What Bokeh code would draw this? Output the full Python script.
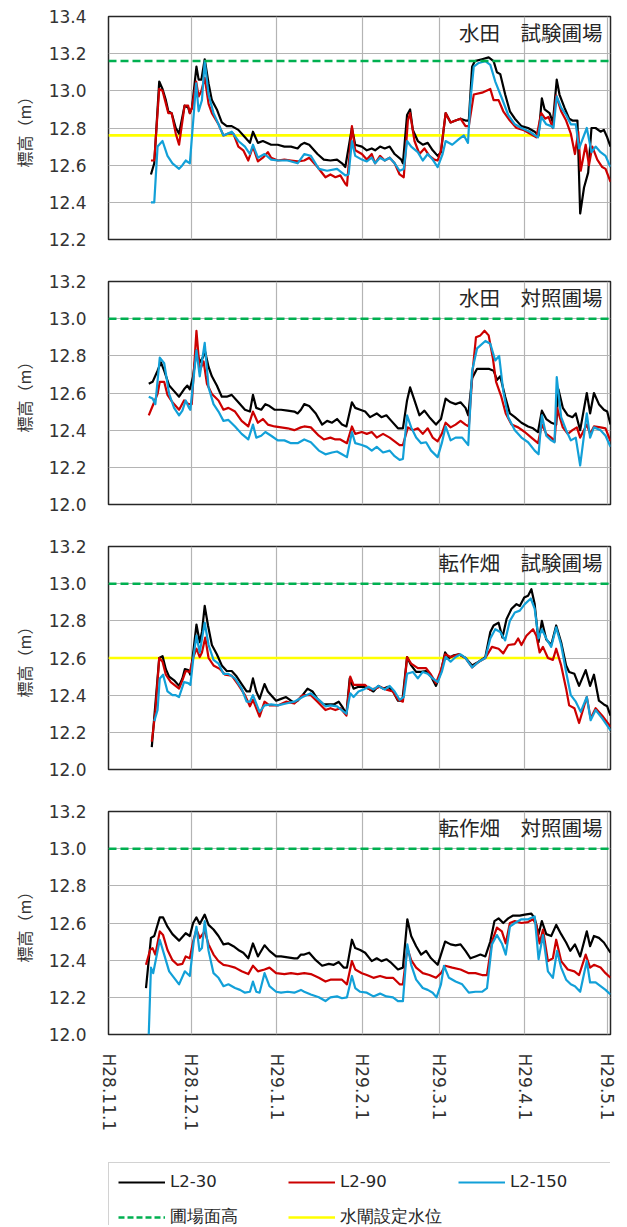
from bokeh.plotting import figure
from bokeh.models import (Range1d, FixedTicker, NumeralTickFormatter, Label,
                          Legend, LegendItem, Span)
from bokeh.layouts import column
from bokeh.core.properties import value
from bokeh.embed import file_html
from bokeh.resources import INLINE

# ---------------- axis / category data ----------------
# x = days since H28.11.1
tick_days = [0, 30, 61, 92, 120, 151, 181]
tick_labels = ["H28.11.1", "H28.12.1", "H29.1.1", "H29.2.1",
               "H29.3.1", "H29.4.1", "H29.5.1"]
x_end = 182.1

panel_titles = ["水田　試験圃場", "水田　対照圃場", "転作畑　試験圃場", "転作畑　対照圃場"]
panel_ymin = [12.2, 12.0, 12.0, 12.0]
panel_ymax = [13.4, 13.2, 13.2, 13.2]
field_level = [13.16, 13.0, 13.0, 13.0]          # 圃場面高
gate_level = [12.76, None, 12.60, None]          # 水閘設定水位
gate_days = [[0, 167.7], None, [0, 163.0], None]

series_names = ["L2-30", "L2-90", "L2-150"]
series_colors = ["#000000", "#cc0000", "#12a0d8"]
ref_names = ["圃場面高", "水閘設定水位"]

# ---------------- panel 1 : 水田 試験圃場 ----------------
p1_l30_day = [15.4,16.6,18.4,19.6,20.8,21.7,22.9,24.4,25.6,27.6,28.9,29.5,30.3,31.9,32.7,33.7,34.9,36.3,37.5,39.3,41.1,42.9,44.7,47.1,49.5,51.3,52.4,54.2,56.0,59.0,61.4,63.8,66.2,68.6,69.8,71.0,72.8,75.8,78.1,80.5,82.9,84.7,85.9,88.3,89.5,91.9,93.7,95.5,96.7,98.5,100.2,102.0,103.8,106.2,106.8,108.3,109.4,110.4,112.2,114.0,115.8,117.6,119.4,120.6,122.3,124.1,125.9,127.7,129.5,130.7,131.9,132.9,135.5,137.9,139.7,140.9,142.1,143.9,145.6,147.4,149.8,152.2,154.6,156.0,157.2,158.2,160.0,161.2,162.6,163.6,165.4,167.1,168.3,170.1,171.1,172.5,174.0,175.2,176.7,178.5,179.7,180.9,182.1]
p1_l30 = [12.55,12.61,13.05,13.01,12.95,12.89,12.88,12.80,12.77,12.92,12.91,12.88,12.91,13.13,13.06,13.06,13.17,13.04,12.95,12.90,12.83,12.81,12.81,12.79,12.75,12.72,12.78,12.72,12.73,12.71,12.71,12.70,12.70,12.69,12.71,12.72,12.71,12.66,12.63,12.625,12.63,12.61,12.59,12.80,12.71,12.70,12.68,12.69,12.68,12.70,12.69,12.70,12.66,12.63,12.61,12.87,12.90,12.79,12.73,12.71,12.72,12.68,12.65,12.67,12.88,12.83,12.84,12.85,12.84,12.84,13.13,13.16,13.17,13.18,13.16,13.10,13.09,12.98,12.89,12.85,12.81,12.80,12.78,12.76,12.96,12.90,12.88,12.83,13.06,12.98,12.91,12.85,12.84,12.84,12.34,12.48,12.56,12.80,12.80,12.78,12.79,12.75,12.70]
p1_l90_day = [15.4,16.6,18.4,19.6,21.7,22.9,24.4,25.6,27.6,28.9,29.5,30.3,31.8,32.7,33.7,34.9,36.3,37.5,39.9,41.7,43.5,45.3,47.1,48.9,50.7,52.4,54.2,56.0,57.8,59.0,61.4,63.8,66.2,68.6,71.0,72.8,75.8,78.7,80.5,82.3,84.1,85.9,86.5,88.3,89.5,91.9,93.7,95.5,96.7,98.5,100.2,102.0,103.8,105.6,107.1,108.6,109.4,111.0,112.8,114.6,116.4,118.2,119.4,120.6,122.3,124.1,125.9,127.7,129.5,130.7,132.5,135.5,138.5,139.7,141.5,143.2,145.6,148.0,150.4,152.8,155.2,157.0,158.4,159.6,161.2,162.4,164.2,166.0,167.7,169.2,170.4,171.3,173.1,174.3,175.5,177.3,179.1,180.3,182.1]
p1_l90 = [12.625,12.625,13.01,13.00,12.88,12.88,12.77,12.71,12.92,12.92,12.88,12.91,13.05,12.97,13.00,13.07,12.93,12.88,12.82,12.76,12.77,12.77,12.70,12.68,12.625,12.70,12.62,12.64,12.67,12.64,12.625,12.63,12.625,12.62,12.625,12.64,12.59,12.535,12.55,12.535,12.545,12.50,12.49,12.81,12.68,12.66,12.63,12.66,12.61,12.65,12.625,12.64,12.61,12.55,12.535,12.84,12.88,12.73,12.66,12.69,12.65,12.63,12.625,12.68,12.88,12.83,12.84,12.85,12.81,12.81,12.98,12.99,13.01,12.95,12.95,12.89,12.84,12.80,12.79,12.77,12.75,12.88,12.85,12.86,12.80,12.975,12.89,12.84,12.77,12.66,12.78,12.57,12.71,12.60,12.70,12.63,12.59,12.58,12.51]
p1_l150_day = [15.4,16.6,17.8,19.6,21.4,23.2,25.6,26.8,28.0,29.5,30.9,31.8,32.7,33.9,34.9,36.3,38.1,39.9,41.7,44.7,47.1,49.5,51.3,52.4,54.2,56.6,59.0,61.4,65.0,68.6,71.0,73.4,76.3,79.3,82.9,85.9,87.1,88.3,89.5,91.9,93.7,95.5,96.7,98.5,100.2,102.0,103.8,105.6,107.1,108.3,109.8,112.2,114.0,115.8,117.6,119.4,121.2,122.3,124.7,127.1,128.9,130.4,131.3,132.5,134.3,136.7,138.5,140.3,142.7,145.0,147.4,149.8,152.8,155.8,157.0,158.8,160.6,161.4,162.6,164.2,166.0,167.7,169.5,170.7,173.5,175.2,176.7,178.5,180.3,182.1]
p1_l150 = [12.40,12.40,12.70,12.73,12.65,12.61,12.58,12.60,12.625,12.61,12.87,13.04,12.89,12.95,13.16,12.98,12.88,12.82,12.76,12.78,12.73,12.70,12.66,12.71,12.64,12.66,12.63,12.625,12.625,12.61,12.66,12.65,12.58,12.57,12.58,12.545,12.55,12.73,12.65,12.63,12.62,12.64,12.61,12.64,12.625,12.64,12.61,12.57,12.58,12.73,12.70,12.67,12.625,12.66,12.63,12.59,12.66,12.73,12.71,12.74,12.76,12.72,12.95,13.13,13.15,13.16,13.14,13.05,12.96,12.87,12.82,12.80,12.78,12.75,12.86,12.82,12.81,12.80,12.97,12.91,12.87,12.82,12.82,12.69,12.80,12.67,12.70,12.67,12.65,12.59]

# ---------------- panel 2 : 水田 対照圃場 ----------------
p2_l30_day = [14.6,16.0,17.8,19.0,20.2,22.0,23.8,25.6,27.4,28.6,29.5,30.7,31.9,33.1,34.2,35.1,36.3,37.5,39.3,41.1,42.9,44.7,47.1,49.5,51.3,52.4,53.6,55.4,56.9,58.4,60.2,62.6,65.0,67.4,68.6,69.8,71.0,72.8,75.2,77.5,79.3,81.1,82.9,84.7,86.3,88.3,89.5,91.3,93.1,94.9,97.3,99.0,100.8,102.6,105.0,106.8,108.3,109.4,111.0,112.8,114.6,116.4,118.8,120.6,122.3,124.1,125.9,127.7,129.5,130.5,131.9,133.7,135.5,137.9,139.7,140.9,142.1,143.9,145.6,147.4,149.8,152.2,154.0,155.8,157.2,158.8,160.6,162.4,163.2,164.8,166.6,168.3,169.5,171.1,173.5,174.7,176.1,177.9,179.7,180.9,182.1]
p2_l30 = [12.65,12.66,12.72,12.765,12.72,12.64,12.61,12.58,12.62,12.64,12.62,12.69,12.83,12.765,12.79,12.82,12.74,12.69,12.64,12.58,12.58,12.59,12.55,12.51,12.50,12.59,12.52,12.51,12.54,12.53,12.51,12.51,12.505,12.50,12.49,12.51,12.54,12.53,12.49,12.43,12.45,12.44,12.46,12.43,12.42,12.55,12.52,12.51,12.50,12.47,12.49,12.47,12.48,12.45,12.41,12.41,12.56,12.63,12.56,12.48,12.505,12.47,12.43,12.46,12.57,12.55,12.54,12.55,12.52,12.48,12.68,12.73,12.73,12.73,12.72,12.67,12.69,12.58,12.49,12.47,12.44,12.42,12.41,12.39,12.505,12.46,12.44,12.43,12.62,12.52,12.48,12.47,12.49,12.40,12.60,12.49,12.60,12.54,12.51,12.50,12.43]
p2_l90_day = [14.6,16.0,17.8,18.6,20.2,21.4,23.2,25.6,27.4,29.0,30.2,31.9,33.1,34.5,35.7,37.5,39.9,41.7,43.5,45.9,48.3,50.7,52.4,54.2,56.0,57.8,60.2,62.6,65.0,67.4,69.8,71.0,73.4,76.3,78.1,80.5,82.3,84.1,86.5,88.3,89.5,91.9,93.7,95.5,97.3,99.6,102.0,103.8,105.6,106.8,108.6,110.4,112.2,114.0,115.8,117.6,119.4,120.9,122.3,124.1,125.9,127.7,129.5,130.7,132.1,133.3,134.9,136.4,137.9,139.4,140.6,142.4,144.1,146.2,148.6,151.0,153.4,155.8,157.2,158.8,160.6,161.8,162.7,164.8,166.6,168.3,169.9,171.1,173.5,174.7,176.1,178.5,180.3,182.1]
p2_l90 = [12.48,12.53,12.595,12.66,12.66,12.59,12.55,12.51,12.56,12.54,12.54,12.935,12.72,12.77,12.65,12.595,12.56,12.51,12.52,12.50,12.45,12.42,12.50,12.44,12.46,12.43,12.42,12.415,12.41,12.40,12.415,12.42,12.415,12.37,12.35,12.36,12.35,12.35,12.33,12.42,12.38,12.39,12.38,12.39,12.36,12.38,12.36,12.34,12.32,12.32,12.415,12.40,12.41,12.38,12.41,12.36,12.34,12.38,12.44,12.415,12.43,12.45,12.43,12.42,12.72,12.90,12.91,12.935,12.91,12.79,12.66,12.585,12.49,12.43,12.415,12.39,12.36,12.33,12.43,12.38,12.36,12.34,12.52,12.415,12.38,12.40,12.415,12.36,12.43,12.38,12.42,12.415,12.41,12.34]
p2_l150_day = [14.6,16.0,17.0,18.6,20.2,22.0,23.8,25.6,26.8,28.0,29.2,29.7,31.9,33.1,34.9,36.3,38.1,39.9,41.7,43.5,45.9,48.3,50.7,52.4,53.6,55.4,56.9,59.0,61.4,63.8,66.2,68.6,71.0,73.4,76.3,78.7,81.1,82.9,84.7,86.5,88.3,89.5,91.9,93.7,95.5,97.3,99.6,102.0,103.8,105.6,106.8,108.3,109.8,111.6,113.4,115.2,117.0,119.4,120.9,122.3,124.1,125.9,128.3,130.5,131.9,133.7,136.7,138.5,140.3,141.7,143.2,145.0,147.4,149.8,152.2,154.6,156.0,157.2,158.8,160.6,161.8,162.6,164.2,166.0,167.7,169.5,171.1,173.5,174.7,176.1,178.5,180.3,182.1]
p2_l150 = [12.58,12.57,12.54,12.79,12.76,12.595,12.52,12.48,12.505,12.56,12.52,12.51,12.83,12.69,12.87,12.63,12.54,12.50,12.45,12.455,12.42,12.38,12.35,12.43,12.36,12.37,12.39,12.37,12.345,12.345,12.33,12.33,12.35,12.335,12.29,12.27,12.28,12.285,12.27,12.255,12.39,12.33,12.32,12.31,12.29,12.31,12.28,12.29,12.26,12.24,12.245,12.48,12.415,12.36,12.33,12.335,12.29,12.255,12.33,12.42,12.345,12.36,12.36,12.32,12.72,12.84,12.88,12.865,12.775,12.80,12.61,12.47,12.40,12.36,12.335,12.29,12.27,12.48,12.37,12.345,12.335,12.685,12.47,12.40,12.345,12.36,12.21,12.49,12.36,12.415,12.40,12.37,12.31]

# ---------------- panel 3 : 転作畑 試験圃場 ----------------
p3_l30_day = [15.7,17.0,18.4,19.6,20.8,22.0,23.8,25.6,26.8,27.7,28.9,29.7,30.9,31.9,33.1,33.9,34.9,36.1,37.5,39.3,41.1,42.9,44.7,46.5,48.3,50.1,51.3,52.4,53.6,54.8,56.6,57.8,59.0,60.8,62.6,64.4,66.2,67.4,68.6,70.4,72.2,74.0,75.8,78.1,79.9,81.7,83.5,84.7,86.3,87.5,88.9,90.7,92.5,94.3,96.1,97.9,99.6,101.4,103.2,105.0,106.6,108.3,109.8,111.6,113.4,115.2,117.0,118.8,120.6,122.1,123.5,125.3,127.1,129.5,131.9,134.3,136.7,138.5,139.7,141.5,142.9,144.4,146.2,148.0,149.2,150.8,152.2,153.4,154.6,156.0,157.2,158.8,160.6,162.4,164.2,166.0,167.1,169.0,170.7,173.1,174.7,176.1,177.9,179.7,180.9,182.1]
p3_l30 = [12.12,12.35,12.60,12.61,12.54,12.50,12.48,12.45,12.49,12.54,12.535,12.51,12.65,12.78,12.685,12.74,12.88,12.775,12.67,12.62,12.56,12.53,12.53,12.50,12.46,12.42,12.42,12.49,12.42,12.38,12.46,12.42,12.40,12.37,12.38,12.39,12.37,12.36,12.37,12.40,12.435,12.42,12.38,12.35,12.35,12.35,12.365,12.34,12.30,12.49,12.435,12.445,12.445,12.435,12.42,12.45,12.435,12.445,12.42,12.37,12.37,12.605,12.56,12.525,12.525,12.53,12.50,12.45,12.525,12.63,12.60,12.615,12.62,12.60,12.56,12.58,12.605,12.74,12.775,12.79,12.71,12.81,12.865,12.89,12.88,12.925,12.935,12.97,12.89,12.685,12.80,12.70,12.67,12.775,12.685,12.56,12.525,12.515,12.45,12.535,12.45,12.51,12.37,12.35,12.34,12.29]
p3_l90_day = [15.7,17.0,18.4,19.6,20.8,22.6,25.6,26.8,28.0,29.5,30.7,31.9,33.1,33.9,35.1,36.3,38.1,40.5,42.3,44.7,47.1,49.5,51.3,52.4,54.8,56.6,58.4,61.4,64.4,67.4,70.4,73.4,75.8,78.7,80.5,82.3,84.1,86.3,87.7,88.9,90.7,93.1,94.9,96.7,98.5,100.8,103.2,105.0,106.8,108.3,109.8,112.2,115.2,117.0,118.8,120.6,122.1,124.1,127.1,129.5,131.9,134.3,136.7,139.1,141.5,143.2,145.0,147.4,148.6,149.8,151.6,154.0,155.2,156.4,157.6,159.4,161.2,162.4,164.2,166.0,167.1,169.0,170.7,173.5,174.9,176.7,179.1,182.1]
p3_l90 = [12.15,12.31,12.60,12.58,12.51,12.47,12.435,12.48,12.53,12.525,12.60,12.65,12.605,12.63,12.71,12.60,12.56,12.54,12.51,12.505,12.455,12.40,12.34,12.375,12.285,12.365,12.345,12.345,12.365,12.355,12.40,12.40,12.365,12.32,12.33,12.32,12.33,12.29,12.50,12.455,12.455,12.455,12.43,12.435,12.445,12.43,12.42,12.375,12.365,12.605,12.57,12.545,12.545,12.51,12.465,12.535,12.62,12.605,12.62,12.60,12.55,12.58,12.60,12.66,12.65,12.625,12.67,12.675,12.705,12.67,12.72,12.755,12.72,12.63,12.66,12.60,12.59,12.65,12.56,12.435,12.345,12.33,12.25,12.39,12.275,12.33,12.29,12.23]
p3_l150_day = [16.6,17.8,18.6,19.8,21.4,23.2,24.4,25.6,27.4,28.9,29.7,30.9,31.9,33.1,34.9,36.3,38.1,39.9,41.7,43.5,45.9,48.3,50.1,51.3,52.4,54.8,56.6,59.0,61.4,64.4,67.4,70.4,73.4,76.3,78.7,80.5,82.9,86.3,87.7,88.9,90.7,92.5,94.3,96.1,97.9,100.2,102.0,103.8,105.6,107.1,108.3,110.4,112.2,114.0,115.8,117.6,119.4,120.9,122.3,124.1,125.9,127.7,129.5,131.9,134.3,136.7,138.5,140.3,142.1,143.9,145.6,147.4,149.2,151.0,153.2,154.6,156.0,157.2,158.8,160.6,162.4,164.2,166.0,167.7,169.5,171.3,173.5,174.9,176.7,179.1,182.1]
p3_l150 = [12.26,12.32,12.49,12.51,12.42,12.40,12.40,12.39,12.47,12.465,12.455,12.615,12.72,12.63,12.79,12.67,12.59,12.57,12.515,12.515,12.49,12.435,12.365,12.365,12.40,12.31,12.345,12.35,12.345,12.355,12.365,12.39,12.41,12.375,12.34,12.345,12.34,12.30,12.41,12.39,12.42,12.43,12.445,12.43,12.45,12.43,12.45,12.42,12.375,12.39,12.515,12.525,12.49,12.525,12.515,12.49,12.47,12.525,12.605,12.58,12.605,12.62,12.60,12.55,12.58,12.60,12.705,12.755,12.74,12.695,12.80,12.845,12.855,12.89,12.92,12.865,12.705,12.755,12.705,12.66,12.765,12.67,12.525,12.40,12.365,12.31,12.39,12.265,12.32,12.275,12.21]

# ---------------- panel 4 : 転作畑 対照圃場 ----------------
p4_l30_day = [13.6,15.4,16.6,18.6,19.8,21.4,23.2,25.6,28.0,29.5,30.7,31.9,33.1,34.9,36.3,38.1,39.9,41.7,43.5,45.3,47.1,48.9,50.7,52.4,54.2,56.6,58.4,60.8,62.6,65.0,67.4,68.6,69.8,71.0,72.8,75.2,77.5,79.9,81.7,83.5,85.3,86.5,88.3,89.5,91.3,93.1,95.5,97.3,99.0,100.8,102.6,105.0,106.8,108.4,109.8,111.6,113.4,115.2,117.0,119.4,120.6,122.1,124.1,125.9,127.7,129.5,131.3,133.1,134.9,136.7,138.5,140.0,141.5,143.2,145.0,146.8,149.2,151.0,153.4,154.6,156.0,157.2,158.8,160.6,162.4,164.2,166.0,167.5,169.2,171.1,173.5,174.7,176.1,177.9,179.7,182.1]
p4_l30 = [12.25,12.52,12.53,12.63,12.63,12.58,12.54,12.505,12.545,12.53,12.60,12.63,12.595,12.645,12.59,12.565,12.53,12.485,12.49,12.475,12.455,12.44,12.41,12.49,12.42,12.48,12.45,12.42,12.42,12.415,12.41,12.41,12.43,12.43,12.44,12.40,12.37,12.38,12.375,12.39,12.36,12.36,12.51,12.465,12.455,12.44,12.395,12.41,12.395,12.405,12.385,12.35,12.36,12.62,12.53,12.475,12.43,12.45,12.41,12.375,12.43,12.50,12.485,12.48,12.485,12.45,12.41,12.42,12.43,12.42,12.50,12.61,12.625,12.60,12.625,12.64,12.64,12.645,12.65,12.625,12.54,12.61,12.54,12.53,12.59,12.54,12.495,12.45,12.485,12.42,12.555,12.475,12.53,12.52,12.495,12.44]
p4_l90_day = [13.6,15.1,16.0,17.0,18.6,19.8,21.4,23.2,25.0,26.8,28.0,29.5,30.7,31.9,33.1,34.9,36.3,38.1,39.9,41.7,43.5,45.9,48.3,50.7,52.4,54.2,56.6,58.4,60.8,63.8,66.2,68.6,71.0,73.4,76.3,78.7,80.5,82.9,84.7,86.5,88.3,89.5,91.9,93.7,96.1,98.5,100.8,103.2,105.6,106.8,108.4,109.8,111.6,114.0,116.4,118.8,120.6,122.1,124.7,127.7,130.7,133.1,135.5,137.3,139.1,140.9,142.7,144.1,145.6,147.4,149.8,152.2,154.0,155.2,156.4,157.6,159.4,161.2,162.4,164.2,166.6,169.0,170.7,173.1,174.7,176.1,178.5,180.3,182.1]
p4_l90 = [12.375,12.455,12.465,12.43,12.555,12.535,12.455,12.40,12.375,12.38,12.42,12.41,12.50,12.565,12.52,12.555,12.485,12.43,12.395,12.375,12.37,12.36,12.34,12.325,12.37,12.34,12.35,12.36,12.33,12.325,12.33,12.325,12.33,12.325,12.305,12.285,12.295,12.295,12.295,12.27,12.395,12.35,12.33,12.32,12.305,12.315,12.305,12.305,12.27,12.27,12.465,12.40,12.36,12.33,12.32,12.305,12.33,12.37,12.36,12.35,12.33,12.33,12.32,12.32,12.50,12.575,12.555,12.49,12.60,12.61,12.60,12.605,12.62,12.59,12.49,12.565,12.395,12.41,12.51,12.395,12.35,12.34,12.32,12.43,12.36,12.375,12.36,12.33,12.305]
p4_l150_day = [14.6,15.4,16.2,18.6,20.2,22.0,23.8,25.6,27.7,29.5,30.9,31.9,33.0,33.9,34.9,36.3,38.1,39.9,41.7,43.5,45.9,47.7,49.5,51.3,52.4,53.6,54.8,56.6,58.4,60.8,62.6,65.0,67.4,69.8,71.0,73.4,76.3,78.7,80.5,82.9,84.7,86.5,88.3,89.5,91.3,93.7,96.1,98.5,100.8,103.2,105.0,106.8,108.4,109.8,111.6,114.0,115.8,117.6,119.0,120.6,121.7,123.5,125.9,128.3,130.7,133.1,135.5,137.3,139.1,140.9,142.7,144.1,145.6,147.4,149.8,152.2,154.6,156.0,157.6,159.4,161.2,162.7,164.2,166.0,167.7,169.2,171.1,173.5,174.7,176.7,178.5,180.3,182.1]
p4_l150 = [12.00,12.36,12.33,12.51,12.43,12.34,12.305,12.27,12.34,12.315,12.50,12.58,12.45,12.465,12.61,12.45,12.33,12.305,12.26,12.27,12.25,12.24,12.225,12.23,12.285,12.23,12.225,12.33,12.26,12.23,12.225,12.23,12.225,12.24,12.23,12.215,12.20,12.18,12.20,12.205,12.195,12.20,12.315,12.25,12.23,12.225,12.205,12.22,12.205,12.20,12.18,12.18,12.485,12.375,12.295,12.25,12.24,12.225,12.20,12.27,12.37,12.305,12.285,12.27,12.225,12.23,12.23,12.25,12.485,12.535,12.49,12.43,12.58,12.60,12.62,12.62,12.635,12.405,12.535,12.34,12.305,12.45,12.36,12.295,12.27,12.26,12.23,12.395,12.28,12.28,12.26,12.24,12.215]

panel_series = [
    [(p1_l30_day, p1_l30), (p1_l90_day, p1_l90), (p1_l150_day, p1_l150)],
    [(p2_l30_day, p2_l30), (p2_l90_day, p2_l90), (p2_l150_day, p2_l150)],
    [(p3_l30_day, p3_l30), (p3_l90_day, p3_l90), (p3_l150_day, p3_l150)],
    [(p4_l30_day, p4_l30), (p4_l90_day, p4_l90), (p4_l150_day, p4_l150)],
]

# ---------------- styling / layout ----------------
FIG_W = 627
heights = [260, 265, 265, 360]
tops = [16, 21, 21, 21]
bottoms = [21, 21, 21, 116]
TEXT = "#333333"
GREEN = "#00b050"
YELLOW = "#ffff00"
LINE_W = 2.2


def make_panel(i):
    p = figure(width=FIG_W, height=heights[i],
               x_range=Range1d(0, x_end),
               y_range=Range1d(panel_ymin[i], panel_ymax[i]),
               toolbar_location=None, output_backend="svg",
               min_border_left=102, min_border_right=17,
               min_border_top=tops[i], min_border_bottom=bottoms[i])
    p.background_fill_color = "white"
    p.border_fill_color = "white"
    p.outline_line_color = "#262626"
    p.outline_line_width = 1.5

    yticks = [round(panel_ymin[i] + 0.2 * k, 1) for k in range(7)]
    p.yaxis.ticker = FixedTicker(ticks=yticks)
    p.yaxis.formatter = NumeralTickFormatter(format="0.0")
    p.xaxis.ticker = FixedTicker(ticks=tick_days)
    p.xaxis.major_label_overrides = {d: lab for d, lab in zip(tick_days, tick_labels)}
    p.xaxis.major_label_orientation = "vertical"

    for ax in (p.xaxis[0], p.yaxis[0]):
        ax.axis_line_color = None
        ax.major_tick_line_color = None
        ax.minor_tick_line_color = None
        ax.major_tick_out = 0
        ax.major_tick_in = 0
        ax.minor_tick_out = 0
        ax.minor_tick_in = 0
        ax.major_label_text_font = "DejaVu Sans"
        ax.major_label_text_font_size = "17px"
        ax.major_label_text_color = TEXT
    p.yaxis.major_label_standoff = 22
    p.xaxis.major_label_standoff = 19

    p.yaxis.axis_label = "標高（m）"
    p.yaxis.axis_label_text_font = "Noto Sans CJK JP"
    p.yaxis.axis_label_text_font_size = "16px"
    p.yaxis.axis_label_text_font_style = "normal"
    p.yaxis.axis_label_text_color = TEXT
    p.yaxis.axis_label_standoff = 10

    p.grid.grid_line_color = "#b4b4b4"
    p.grid.grid_line_width = 1.2
    p.xgrid.ticker = FixedTicker(ticks=tick_days)
    p.ygrid.ticker = FixedTicker(ticks=yticks)

    if i < 3:
        p.xaxis.visible = False

    if gate_level[i] is not None:
        p.line(gate_days[i], [gate_level[i]] * len(gate_days[i]),
               line_color=YELLOW, line_width=2.7)

    for (d, v), c in zip(panel_series[i], series_colors):
        n = min(len(d), len(v))
        p.line(d[:n], v[:n], line_color=c, line_width=LINE_W, line_join="round")

    p.add_layout(Span(location=field_level[i], dimension="width",
                      line_color=GREEN, line_width=2.5, line_dash="8 4"))

    p.add_layout(Label(x=x_end - 2.9, y=panel_ymax[i] - 0.086,
                       text=panel_titles[i], text_align="right",
                       text_baseline="middle", text_font="Noto Sans CJK JP",
                       text_font_size="20.5px", text_color="#262626"))
    return p


panels = [make_panel(i) for i in range(4)]

# ---------------- legend ----------------
# The legend lives in its own strip; its renderers reuse panel-1 data but the
# strip's ranges keep them out of view, so only the legend glyphs show.
leg = figure(width=FIG_W, height=75, x_range=Range1d(0, 1), y_range=Range1d(0, 1),
             toolbar_location=None, output_backend="svg",
             x_axis_type=None, y_axis_type=None,
             min_border_left=108, min_border_top=12,
             min_border_right=0, min_border_bottom=0)
leg.outline_line_color = None
leg.background_fill_color = "white"
leg.border_fill_color = "white"

items = []
for (d, v), name, c in zip(panel_series[0], series_names, series_colors):
    n = min(len(d), len(v))
    r = leg.line(d[:n], v[:n], line_color=c, line_width=LINE_W)
    items.append(LegendItem(label=value(name), renderers=[r]))
r_g = leg.line(gate_days[0], [field_level[0]] * len(gate_days[0]),
               line_color=GREEN, line_width=2.5, line_dash="6 3")
items.append(LegendItem(label=value(ref_names[0]), renderers=[r_g]))
r_y = leg.line(gate_days[0], [gate_level[0]] * len(gate_days[0]),
               line_color=YELLOW, line_width=2.7)
items.append(LegendItem(label=value(ref_names[1]), renderers=[r_y]))

legend = Legend(items=items, location="top_left", orientation="horizontal",
                ncols=3, glyph_width=47, glyph_height=18, label_standoff=5,
                label_width=103, label_height=18, spacing=15, padding=9,
                margin=0, border_line_color="#a6a6a6", border_line_width=1,
                background_fill_color="white", background_fill_alpha=1.0,
                label_text_font="DejaVu Sans", label_text_font_size="16.5px",
                label_text_color="#262626")
leg.add_layout(legend)

layout = column(*panels, leg)
open("out.html", "w").write(file_html(layout, INLINE))
